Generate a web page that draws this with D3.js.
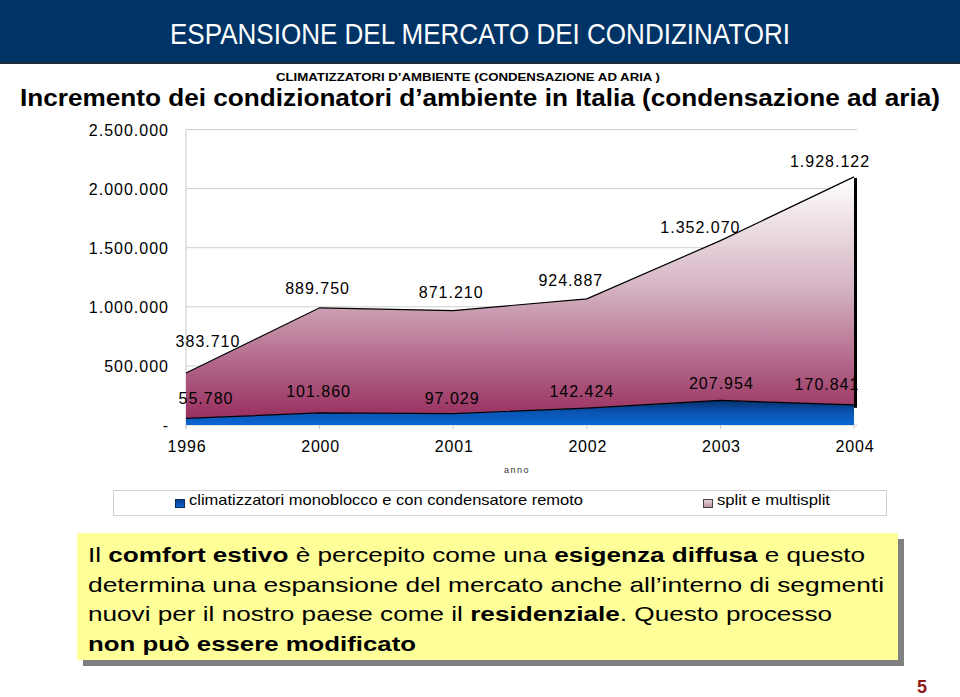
<!DOCTYPE html>
<html>
<head>
<meta charset="utf-8">
<script src="https://cdn.jsdelivr.net/npm/d3@7"></script>
<style>
  html, body { margin: 0; padding: 0; background: #ffffff; }
  svg { display: block; }
</style>
</head>
<body>
<svg id="chart" width="960" height="697"></svg>
<script>
// ---------------- DATA ----------------
const years = ["1996", "2000", "2001", "2002", "2003", "2004"];
const monoblocco = [55780, 101860, 97029, 142424, 207954, 170841];
const splitMulti = [383710, 889750, 871210, 924887, 1352070, 1928122];
const yTickValues = [0, 500000, 1000000, 1500000, 2000000, 2500000];
const seriesNames = ["climatizzatori monoblocco e con condensatore remoto", "split e multisplit"];

const headerTitle = "ESPANSIONE DEL MERCATO DEI CONDIZINATORI";
const chartSubtitle = "CLIMATIZZATORI D\u2019AMBIENTE (CONDENSAZIONE AD ARIA )";
const chartTitle = "Incremento dei condizionatori d\u2019ambiente in Italia (condensazione ad aria)";
const xAxisTitle = "anno";
const noteLines = [
  [["Il ", false], ["comfort estivo", true], [" è percepito come una ", false], ["esigenza diffusa", true], [" e questo", false]],
  [["determina una espansione del mercato anche all\u2019interno di segmenti", false]],
  [["nuovi per il nostro paese come il ", false], ["residenziale", true], [". Questo processo", false]],
  [["non può essere modificato", true]]
];
const pageNumber = "5";

// ---------------- LAYOUT ----------------
const plot = { left: 186, right: 854, top: 129.5, bottom: 425 };
const splitLabelNudge = [[22, -26], [-2, -14], [-2, -13], [-16, -13], [-20, -8], [-24, -10]];
const monoLabelNudge = [[20, -14], [-1, -16], [-1, -10], [-5, -11], [1, -11], [-27, -15]];
const noteWidths = [777, 796, 744, 328];

const svg = d3.select("#chart");
const defs = svg.append("defs");
const FONT = "'Liberation Sans', Arial, Helvetica, sans-serif";
const NARROW = "'Liberation Sans Narrow', 'Liberation Sans', Arial, sans-serif";

const itLocale = d3.formatLocale({ decimal: ",", thousands: ".", grouping: [3], currency: ["€", ""] });
const fmt = itLocale.format(",d");
const tickFmt = v => v === 0 ? "-" : fmt(v);

// ---------------- HEADER ----------------
svg.append("rect").attr("x", 0).attr("y", 0).attr("width", 960).attr("height", 63).attr("fill", "#003366");
svg.append("rect").attr("x", 0).attr("y", 62).attr("width", 960).attr("height", 2).attr("fill", "#1f2a3a");
svg.append("text").attr("x", 170).attr("y", 44)
  .attr("font-family", NARROW).attr("font-size", 29).attr("fill", "#ffffff")
  .attr("textLength", 620).attr("lengthAdjust", "spacingAndGlyphs")
  .text(headerTitle);

svg.append("text").attr("x", 276).attr("y", 81)
  .attr("font-family", NARROW).attr("font-size", 11.5).attr("font-weight", "bold").attr("fill", "#000")
  .attr("textLength", 384).attr("lengthAdjust", "spacingAndGlyphs")
  .text(chartSubtitle);
svg.append("text").attr("x", 20).attr("y", 106)
  .attr("font-family", NARROW).attr("font-size", 23).attr("font-weight", "bold").attr("fill", "#000")
  .attr("textLength", 920).attr("lengthAdjust", "spacingAndGlyphs")
  .text(chartTitle);

// ---------------- SCALES ----------------
const x = d3.scalePoint().domain(years).range([plot.left, plot.right]);
const y = d3.scaleLinear().domain([0, 2500000]).range([plot.bottom, plot.top]);

const rows = years.map((yr, i) => ({ year: yr, mono: monoblocco[i], split: splitMulti[i] }));
const stacked = d3.stack().keys(["mono", "split"])(rows);

// gridlines
const g = svg.append("g");
g.selectAll("line.grid").data(yTickValues.filter(v => v > 0)).join("line")
  .attr("x1", plot.left).attr("x2", plot.right + 3)
  .attr("y1", d => y(d)).attr("y2", d => y(d))
  .attr("stroke", "#cfcfcf").attr("stroke-width", 1);
g.append("line").attr("x1", plot.left).attr("x2", plot.left)
  .attr("y1", plot.top).attr("y2", plot.bottom + 4).attr("stroke", "#c8c8c8");
g.append("line").attr("x1", plot.left).attr("x2", plot.right + 3)
  .attr("y1", plot.bottom).attr("y2", plot.bottom).attr("stroke", "#c8c8c8");
g.selectAll("line.xt").data(years).join("line")
  .attr("x1", d => x(d)).attr("x2", d => x(d))
  .attr("y1", plot.bottom).attr("y2", plot.bottom + 4).attr("stroke", "#c8c8c8");

// gradients
const gradSplit = defs.append("linearGradient").attr("id", "gSplit")
  .attr("gradientUnits", "userSpaceOnUse").attr("x1", 0).attr("x2", 0)
  .attr("y1", y(d3.max(stacked[1], d => d[1]))).attr("y2", plot.bottom);
gradSplit.append("stop").attr("offset", "0").attr("stop-color", "#ffffff");
gradSplit.append("stop").attr("offset", "0.45").attr("stop-color", "#d4b3c2");
gradSplit.append("stop").attr("offset", "1").attr("stop-color", "#96285a");

const gradMono = defs.append("linearGradient").attr("id", "gMono")
  .attr("gradientUnits", "userSpaceOnUse").attr("x1", 0).attr("x2", 0)
  .attr("y1", y(d3.max(monoblocco))).attr("y2", plot.bottom);
gradMono.append("stop").attr("offset", "0").attr("stop-color", "#062f6a");
gradMono.append("stop").attr("offset", "0.5").attr("stop-color", "#0a55b5");
gradMono.append("stop").attr("offset", "1").attr("stop-color", "#0b66d3");

const area = d3.area().x(d => x(d.data.year)).y0(d => y(d[0])).y1(d => y(d[1]));
const topLine = d3.line().x(d => x(d.data.year)).y(d => y(d[1]));

// depth shadow on right edge
const last = stacked[1][years.length - 1];
svg.append("line")
  .attr("x1", x(years[years.length - 1]) + 1.5).attr("x2", x(years[years.length - 1]) + 1.5)
  .attr("y1", y(last[1]) + 1).attr("y2", y(last[0]) + 3)
  .attr("stroke", "#000").attr("stroke-width", 3);

svg.append("path").datum(stacked[1]).attr("d", area).attr("fill", "url(#gSplit)");
svg.append("path").datum(stacked[0]).attr("d", area).attr("fill", "url(#gMono)");
svg.append("path").datum(stacked[1]).attr("d", topLine).attr("fill", "none").attr("stroke", "#000").attr("stroke-width", 1.2);
svg.append("path").datum(stacked[0]).attr("d", topLine).attr("fill", "none").attr("stroke", "#000").attr("stroke-width", 1.2);

// y tick labels
svg.append("g").selectAll("text").data(yTickValues).join("text")
  .attr("x", 169).attr("y", d => y(d) + 6)
  .attr("text-anchor", "end").attr("font-family", FONT).attr("font-size", 16)
  .attr("letter-spacing", 1).attr("fill", "#000")
  .text(tickFmt);

// x tick labels
svg.append("g").selectAll("text").data(years).join("text")
  .attr("x", d => x(d) + 1).attr("y", 452)
  .attr("text-anchor", "middle").attr("font-family", FONT).attr("font-size", 16)
  .attr("letter-spacing", 0.8).attr("fill", "#000")
  .text(d => d);

svg.append("text").attr("x", 517).attr("y", 473).attr("text-anchor", "middle")
  .attr("font-family", FONT).attr("font-size", 9).attr("letter-spacing", 1.5).attr("fill", "#333")
  .text(xAxisTitle);

// data labels
svg.append("g").selectAll("text").data(stacked[1]).join("text")
  .attr("x", (d, i) => x(d.data.year) + splitLabelNudge[i][0])
  .attr("y", (d, i) => y(d[1]) + splitLabelNudge[i][1])
  .attr("text-anchor", "middle").attr("font-family", FONT).attr("font-size", 16)
  .attr("letter-spacing", 1).attr("fill", "#000")
  .text(d => fmt(d.data.split));
svg.append("g").selectAll("text").data(stacked[0]).join("text")
  .attr("x", (d, i) => x(d.data.year) + monoLabelNudge[i][0])
  .attr("y", (d, i) => y(d[1]) + monoLabelNudge[i][1])
  .attr("text-anchor", "middle").attr("font-family", FONT).attr("font-size", 16)
  .attr("letter-spacing", 1).attr("fill", "#000")
  .text(d => fmt(d.data.mono));

// ---------------- LEGEND ----------------
svg.append("rect").attr("x", 113.5).attr("y", 490.5).attr("width", 773).attr("height", 25)
  .attr("fill", "#fff").attr("stroke", "#d0d0d0");
const legGradMono = defs.append("linearGradient").attr("id", "lgMono").attr("x1", 0).attr("x2", 0).attr("y1", 0).attr("y2", 1);
legGradMono.append("stop").attr("offset", 0).attr("stop-color", "#0a3f8a");
legGradMono.append("stop").attr("offset", 1).attr("stop-color", "#0b66d3");
const legGradSplit = defs.append("linearGradient").attr("id", "lgSplit").attr("x1", 0).attr("x2", 0).attr("y1", 0).attr("y2", 1);
legGradSplit.append("stop").attr("offset", 0).attr("stop-color", "#e8d8e0");
legGradSplit.append("stop").attr("offset", 1).attr("stop-color", "#b88aa0");
const legendItems = [
  { name: seriesNames[0], sx: 175.5, tx: 189, w: 394, fill: "url(#lgMono)", stroke: "#0a2a5a" },
  { name: seriesNames[1], sx: 703.5, tx: 717, w: 113, fill: "url(#lgSplit)", stroke: "#444" }
];
legendItems.forEach(it => {
  svg.append("rect").attr("x", it.sx).attr("y", 499.5).attr("width", 9).attr("height", 8)
    .attr("fill", it.fill).attr("stroke", it.stroke).attr("stroke-width", 1);
  svg.append("text").attr("x", it.tx).attr("y", 505)
    .attr("font-family", FONT).attr("font-size", 15).attr("fill", "#000")
    .attr("textLength", it.w).attr("lengthAdjust", "spacingAndGlyphs")
    .text(it.name);
});

// ---------------- NOTE BOX ----------------
svg.append("rect").attr("x", 83).attr("y", 539).attr("width", 821).attr("height", 127).attr("fill", "#808080");
svg.append("rect").attr("x", 77).attr("y", 533).attr("width", 821).attr("height", 127).attr("fill", "#ffff99");
noteLines.forEach((line, i) => {
  const t = svg.append("text").attr("x", 88).attr("y", 562 + i * 29.5)
    .attr("font-family", FONT).attr("font-size", 21).attr("fill", "#000")
    .attr("textLength", noteWidths[i]).attr("lengthAdjust", "spacingAndGlyphs");
  line.forEach(([s, b]) => t.append("tspan").attr("font-weight", b ? "bold" : "normal").text(s));
});

svg.append("text").attr("x", 922).attr("y", 693).attr("text-anchor", "middle")
  .attr("font-family", FONT).attr("font-size", 18).attr("font-weight", "bold").attr("fill", "#8b1a1a")
  .text(pageNumber);
</script>
</body>
</html>
